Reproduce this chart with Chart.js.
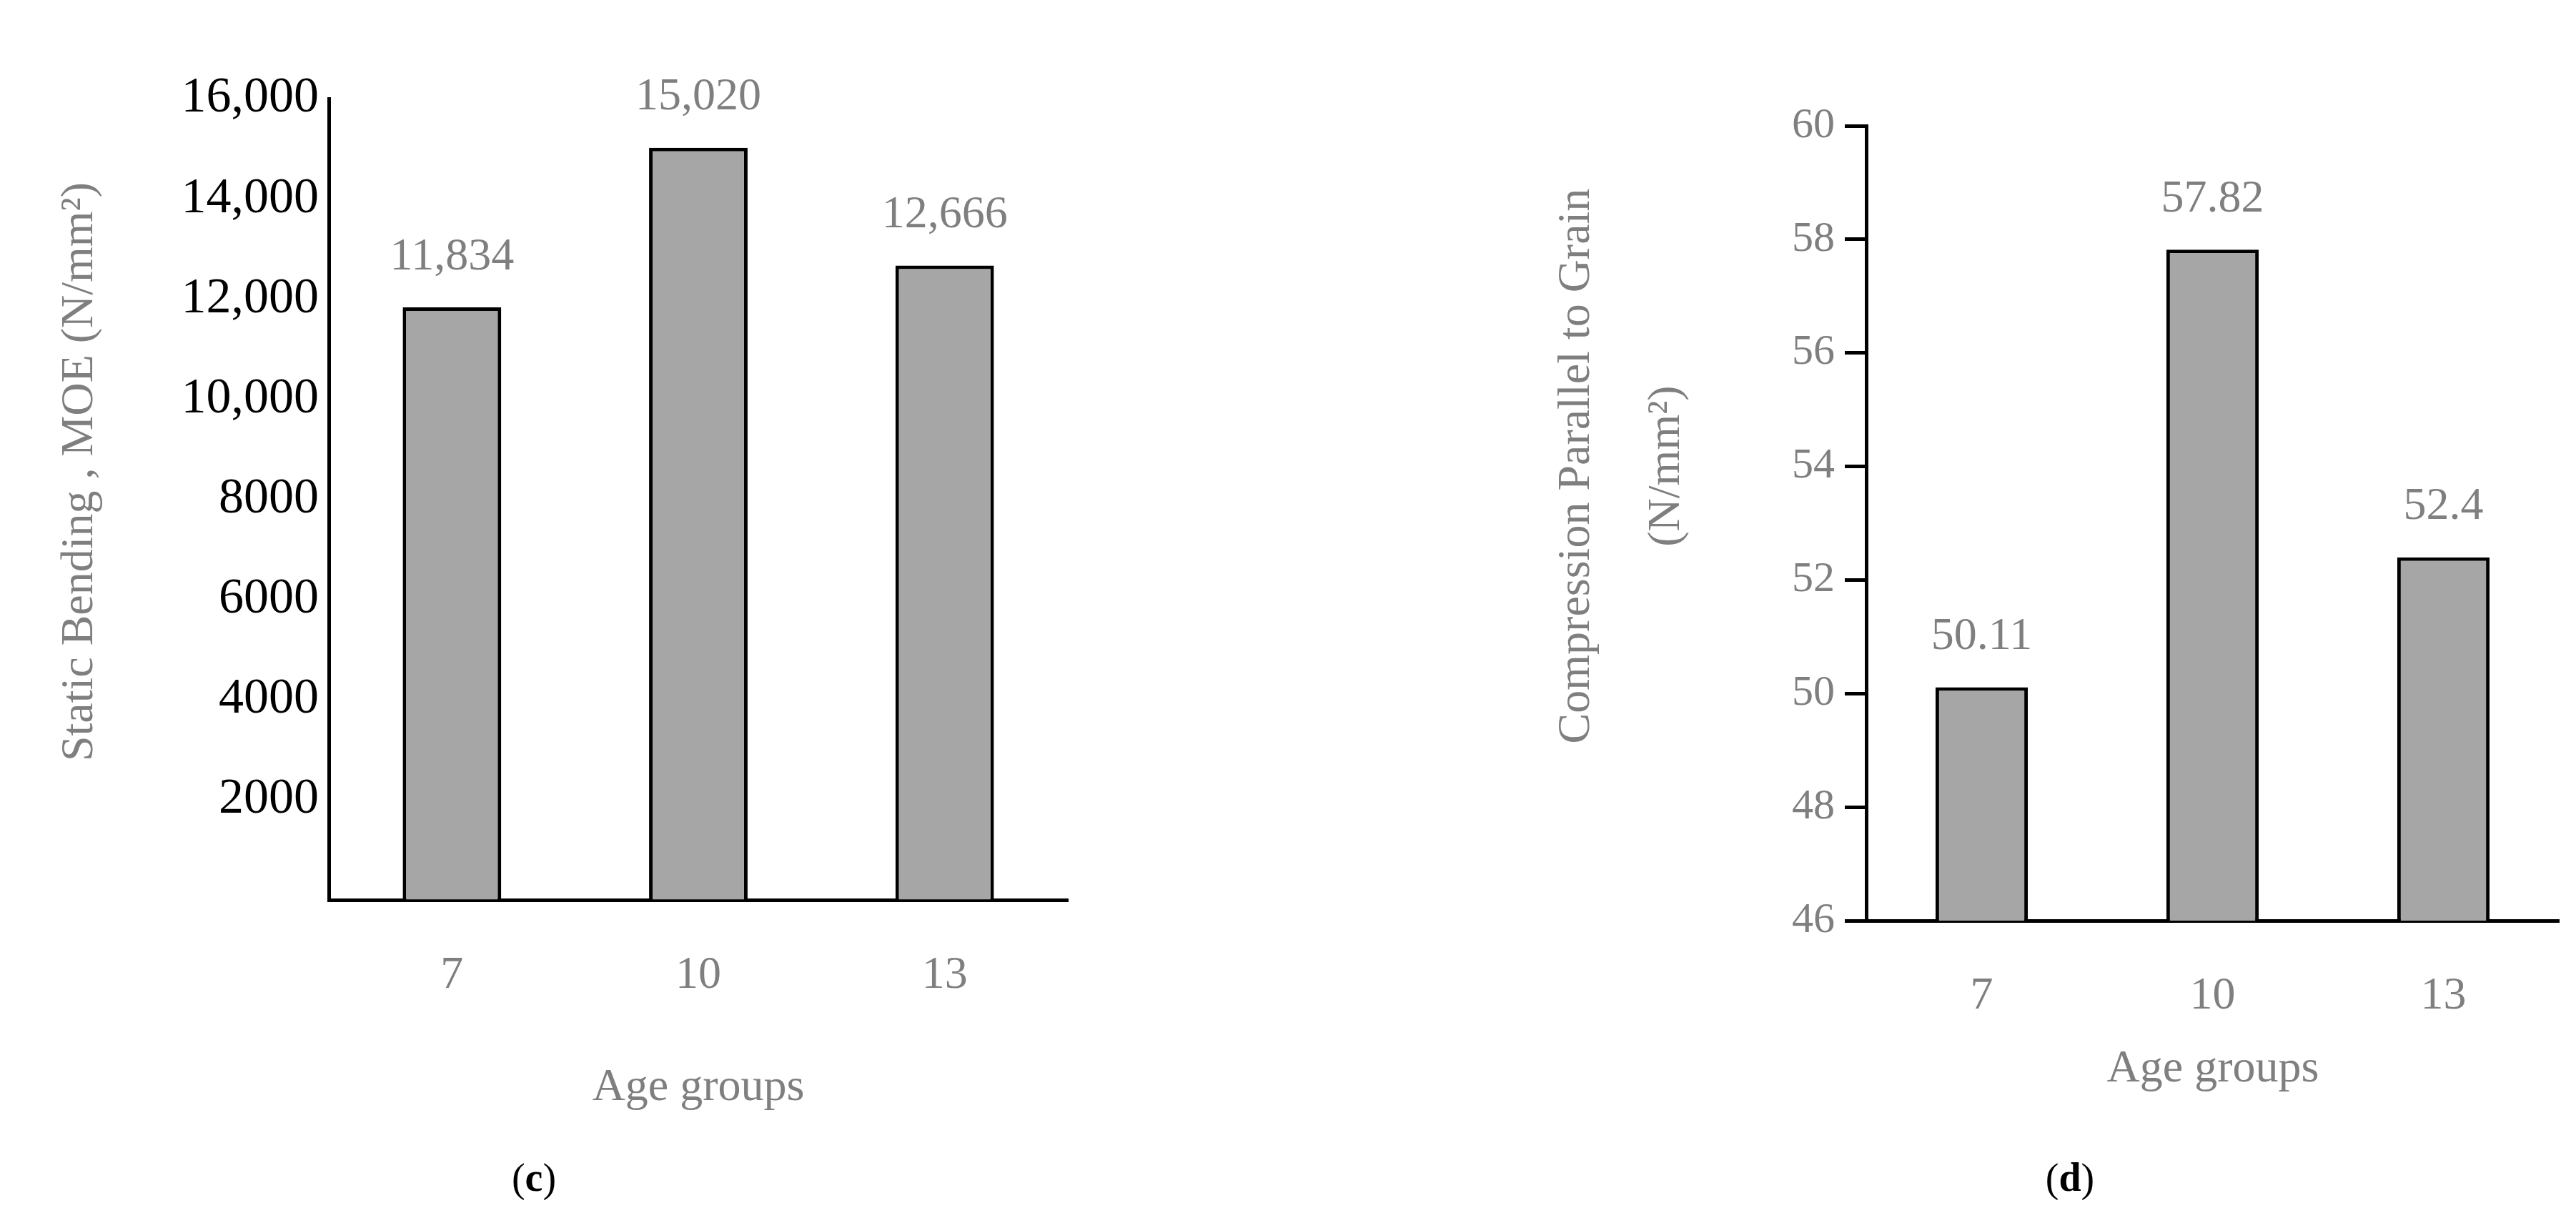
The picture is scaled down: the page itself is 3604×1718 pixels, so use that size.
<!DOCTYPE html>
<html><head><meta charset="utf-8">
<script src="https://cdn.jsdelivr.net/npm/chart.js@4"></script>
<style>
body{margin:0;background:#fff;width:3604px;height:1718px;position:relative;overflow:hidden}
.box{position:absolute;top:0;height:1718px}
</style></head><body>
<div class="box" style="left:0;width:1550px"><canvas id="c1"></canvas></div>
<div class="box" style="left:1800px;width:1804px"><canvas id="c2"></canvas></div>
<script>
var ages = ['7', '10', '13'];
var moe = [11834, 15020, 12666];
var moeLabels = ['11,834', '15,020', '12,666'];
var comp = [50.11, 57.82, 52.4];
var compLabels = ['50.11', '57.82', '52.4'];

var serif = '"Liberation Serif", "DejaVu Serif", serif';
var grey = '#7f7f7f';

// labels above bars + extra texts
function textPlugin(labels, extra) {
  return {
    id: 'txt',
    afterDatasetsDraw(chart) {
      var ctx = chart.ctx;
      ctx.save();
      ctx.fillStyle = grey;
      ctx.textAlign = 'center';
      ctx.textBaseline = 'bottom';
      ctx.font = '64px ' + serif;
      chart.getDatasetMeta(0).data.forEach(function (b, i) {
        ctx.fillText(labels[i], b.x, b.y - 38);
      });
      extra.forEach(function (t) {
        ctx.save();
        ctx.translate(t.x, t.y);
        if (t.rot) ctx.rotate(-Math.PI / 2);
        ctx.textBaseline = 'middle';
        ctx.fillStyle = t.color || grey;
        ctx.font = t.font;
        if (t.parts) {
          var w = 0;
          t.parts.forEach(function (p) { ctx.font = p[1]; w += ctx.measureText(p[0]).width; });
          var x = -w / 2;
          ctx.textAlign = 'left';
          t.parts.forEach(function (p) { ctx.font = p[1]; ctx.fillText(p[0], x, 0); x += ctx.measureText(p[0]).width; });
        } else {
          ctx.fillText(t.text, 0, 0);
        }
        ctx.restore();
      });
      ctx.restore();
    }
  };
}

function makeChart(id, values, labels, y, yw, top, right, xh, tickLen, tickColor, tickSize, extra) {
  return new Chart(document.getElementById(id), {
    type: 'bar',
    data: {
      labels: ages,
      datasets: [{
        data: values,
        backgroundColor: '#a6a6a6',
        borderColor: '#000',
        borderWidth: 5,
        categoryPercentage: 1,
        barPercentage: 0.4
      }]
    },
    options: {
      responsive: false,
      animation: false,
      devicePixelRatio: 1,
      layout: { padding: { top: top, right: right, left: 0, bottom: 0 } },
      plugins: { legend: { display: false }, tooltip: { enabled: false } },
      scales: {
        x: {
          grid: { display: false },
          border: { color: '#000', width: 5 },
          ticks: { color: grey, font: { family: serif, size: 64 }, padding: 60 },
          afterFit(s) { s.height = xh; }
        },
        y: {
          min: y.min, max: y.max,
          grid: { drawOnChartArea: false, tickLength: tickLen, tickWidth: 5, tickColor: '#000' },
          border: { color: '#000', width: 5 },
          ticks: {
            stepSize: y.step, color: tickColor, padding: 14,
            font: { family: serif, size: tickSize },
            callback: y.fmt
          },
          afterFit(s) { s.width = yw; }
        }
      }
    },
    plugins: [textPlugin(labels, extra)]
  });
}

var c1 = document.getElementById('c1'); c1.width = 1550; c1.height = 1718;
var c2 = document.getElementById('c2'); c2.width = 1804; c2.height = 1718;

makeChart('c1', moe, moeLabels,
  { min: 0, max: 16000, step: 2000, fmt: function (v) { return v === 0 ? '' : (v >= 10000 ? v.toLocaleString('en-US') : String(v)); } },
  460, 138, 56, 459, 0, '#000', 70,
  [
    { rot: true, x: 112, y: 660, font: '64px ' + serif, text: 'Static Bending , MOE (N/mm²)' },
    { x: 977, y: 1522, font: '64px ' + serif, text: 'Age groups' },
    { x: 747, y: 1652, color: '#000', font: '56px ' + serif,
      parts: [['(', '56px ' + serif], ['c', 'bold 56px ' + serif], [')', '56px ' + serif]] }
  ]);

makeChart('c2', comp, compLabels,
  { min: 46, max: 60, step: 2, fmt: function (v) { return String(v); } },
  811, 176, 24, 430, 30, grey, 60,
  [
    { rot: true, x: 406, y: 652, font: '64px ' + serif, text: 'Compression Parallel to Grain' },
    { rot: true, x: 532, y: 652, font: '64px ' + serif, text: '(N/mm²)' },
    { x: 1296, y: 1496, font: '64px ' + serif, text: 'Age groups' },
    { x: 1096, y: 1652, color: '#000', font: '56px ' + serif,
      parts: [['(', '56px ' + serif], ['d', 'bold 56px ' + serif], [')', '56px ' + serif]] }
  ]);
</script>
</body></html>
